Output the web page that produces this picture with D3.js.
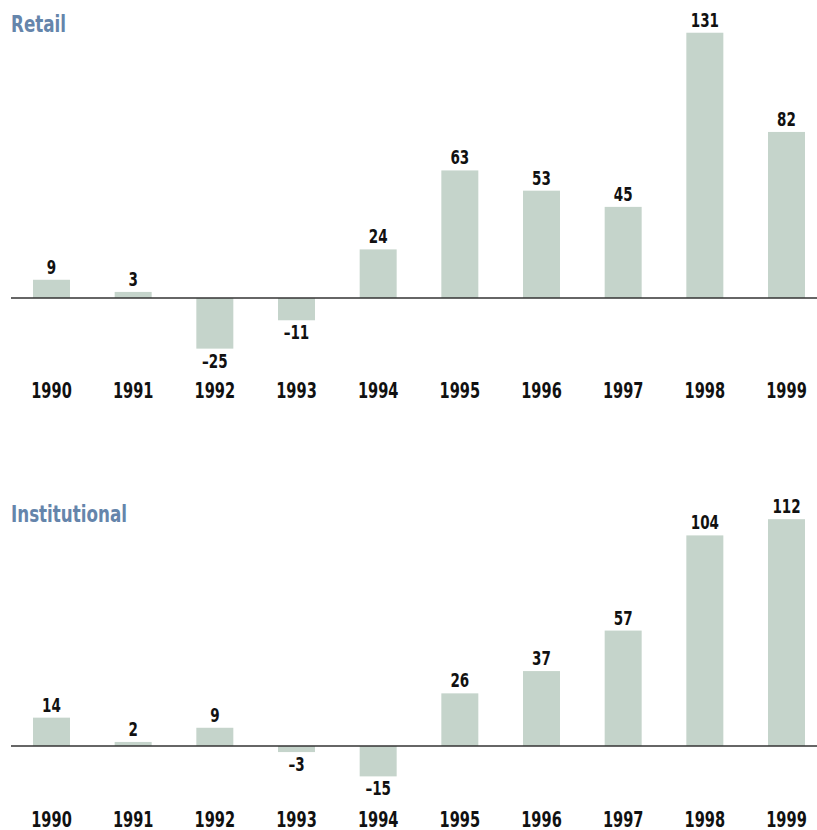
<!DOCTYPE html>
<html><head><meta charset="utf-8">
<script src="https://cdn.jsdelivr.net/npm/d3@7"></script>
<style>
body{margin:0;background:#fff;}
text{font-family:"DejaVu Sans Condensed","Liberation Sans Narrow","Liberation Sans",sans-serif;font-weight:bold;}
</style></head>
<body>
<svg id="c" width="817" height="830"></svg>
<script>
const years = ["1990","1991","1992","1993","1994","1995","1996","1997","1998","1999"];
const retail = [9, 3, -25, -11, 24, 63, 53, 45, 131, 82];
const institutional = [14, 2, 9, -3, -15, 26, 37, 57, 104, 112];
const panelTitles = ["Retail", "Institutional"];

const svg = d3.select("#c");
const x = d3.scaleBand().domain(years).range([10, 828]).paddingInner(0.547).paddingOuter(0.2816);
const pxPerUnit = 2.025;
const sx = 0.79;

const panels = [
  {title: panelTitles[0], values: retail, base: 298, titleY: 32, yearY: 398},
  {title: panelTitles[1], values: institutional, base: 746, titleY: 522, yearY: 827}
];

panels.forEach(p => {
  const y = d3.scaleLinear().domain([0, 1]).range([p.base, p.base - pxPerUnit]);
  const g = svg.append("g");
  g.append("text").attr("transform", `translate(11,${p.titleY}) scale(0.81,1)`).attr("fill", "#6585ab")
    .attr("font-size", 23).text(p.title);
  g.selectAll("rect").data(p.values).join("rect")
    .attr("x", (d, i) => x(years[i]))
    .attr("width", x.bandwidth())
    .attr("y", d => Math.min(y(d), y(0)))
    .attr("height", d => Math.abs(y(d) - y(0)))
    .attr("fill", "#c5d4cb");
  g.append("line").attr("x1", 11).attr("x2", 817).attr("y1", y(0)).attr("y2", y(0))
    .attr("stroke", "#333").attr("stroke-width", 1.4);
  g.selectAll("text.v").data(p.values).join("text").attr("class", "v")
    .attr("transform", (d, i) => `translate(${x(years[i]) + x.bandwidth() / 2},${d >= 0 ? y(d) - 6 : y(d) + 19}) scale(${sx},1)`)
    .attr("text-anchor", "middle").attr("font-size", 19).attr("fill", "#111")
    .text(d => d < 0 ? "\u2013" + Math.abs(d) : d);
  const xa = d3.axisBottom(x).tickSize(0).tickPadding(0);
  const ag = g.append("g").attr("transform", `translate(0,${p.yearY})`).call(xa);
  ag.select(".domain").remove();
  ag.selectAll("text").attr("dy", 0).attr("y", 0).attr("transform", `scale(${sx},1)`)
    .attr("font-size", 20.5).attr("fill", "#111")
    .style("font-family", "'DejaVu Sans Condensed','Liberation Sans Narrow',sans-serif").style("font-weight", "bold");
});
</script>
</body></html>
